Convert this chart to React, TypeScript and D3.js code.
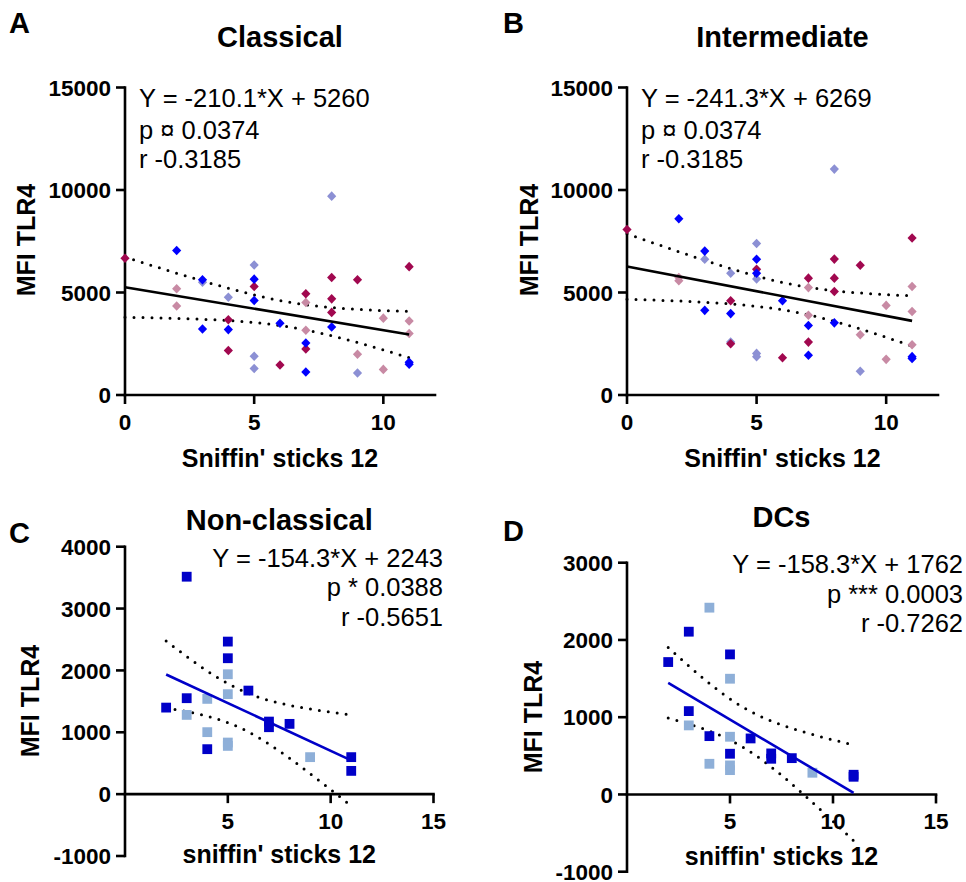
import React from 'react';
import * as d3 from 'd3';

// ---------- DATA ----------
// Panel A – Classical (groups: 0 blue, 1 lavender, 2 crimson, 3 rose)
const classicalX = [2, 3, 3, 4, 5, 5, 6, 7, 7, 8, 11, 11, 3, 4, 5, 5, 5, 8, 9, 0, 4, 4, 5, 6, 7, 7, 8, 8, 8, 9, 11, 2, 2, 7, 7, 9, 10, 10, 11, 11];
const classicalY = [7050, 5620, 3220, 3190, 5650, 4610, 3500, 2540, 1120, 3320, 1500, 1600, 5500, 4770, 6340, 1890, 1290, 9700, 1070, 6670, 3670, 2170, 5290, 1460, 4940, 2250, 5730, 4690, 4030, 5620, 6260, 5180, 4340, 4510, 3160, 1990, 3750, 1250, 3610, 3000];
const classicalGroup = [0, 0, 0, 0, 0, 0, 0, 0, 0, 0, 0, 0, 1, 1, 1, 1, 1, 1, 1, 2, 2, 2, 2, 2, 2, 2, 2, 2, 2, 2, 2, 3, 3, 3, 3, 3, 3, 3, 3, 3];

// Panel B – Intermediate
const intermediateX = [2, 3, 3, 4, 5, 5, 6, 7, 7, 8, 11, 11, 3, 4, 4, 5, 5, 5, 5, 8, 9, 0, 4, 4, 5, 6, 7, 7, 8, 8, 8, 9, 11, 2, 2, 7, 7, 9, 10, 10, 11, 11, 11];
const intermediateY = [8600, 7020, 4130, 3970, 6620, 5940, 4600, 3390, 1940, 3520, 1780, 1870, 6620, 5940, 2580, 7390, 5660, 2030, 1870, 11020, 1160, 8070, 4600, 2500, 6130, 1820, 5700, 2580, 6630, 5700, 5050, 6330, 7660, 5730, 5570, 5240, 3890, 2940, 4370, 1740, 5290, 4070, 2450];
const intermediateGroup = [0, 0, 0, 0, 0, 0, 0, 0, 0, 0, 0, 0, 1, 1, 1, 1, 1, 1, 1, 1, 1, 2, 2, 2, 2, 2, 2, 2, 2, 2, 2, 2, 2, 3, 3, 3, 3, 3, 3, 3, 3, 3, 3];

// Panel C – Non-classical (groups: 0 dark blue, 1 light blue)
const nonClassicalX = [3, 5, 5, 6, 3, 2, 4, 7, 7, 8, 11, 11, 5, 5, 4, 3, 4, 5, 5, 9];
const nonClassicalY = [3515, 2466, 2197, 1674, 1551, 1399, 727, 1173, 1082, 1136, 598, 376, 1938, 1616, 1540, 1281, 1002, 834, 780, 598];
const nonClassicalGroup = [0, 0, 0, 0, 0, 0, 0, 0, 0, 0, 0, 0, 1, 1, 1, 1, 1, 1, 1, 1];

// Panel D – DCs
const dcX = [3, 5, 2, 3, 4, 6, 5, 7, 7, 8, 11, 11, 4, 5, 3, 5, 4, 5, 5, 9];
const dcY = [2107, 1813, 1714, 1079, 755, 725, 527, 531, 462, 470, 255, 229, 2418, 1498, 894, 747, 397, 376, 315, 281];
const dcGroup = [0, 0, 0, 0, 0, 0, 0, 0, 0, 0, 0, 0, 1, 1, 1, 1, 1, 1, 1, 1];

// Regression fits (as printed on the figure)
const fitSlopes = [-210.1, -241.3, -154.3, -158.3];
const fitIntercepts = [5260, 6269, 2243, 1762];
const tCritical = [2.024, 2.021, 2.101, 2.101];

// Texts
const panelLetters = ['A', 'B', 'C', 'D'];
const panelTitles = ['Classical', 'Intermediate', 'Non-classical', 'DCs'];
const xAxisTitles = ["Sniffin' sticks 12", "Sniffin' sticks 12", "sniffin' sticks 12", "sniffin' sticks 12"];
const yAxisTitle = 'MFI TLR4';
const equationLines = [
  ['Y = -210.1*X + 5260', 'p \u00a4 0.0374', 'r -0.3185'],
  ['Y = -241.3*X + 6269', 'p \u00a4 0.0374', 'r -0.3185'],
  ['Y = -154.3*X + 2243', 'p * 0.0388', 'r -0.5651'],
  ['Y = -158.3*X + 1762', 'p *** 0.0003', 'r -0.7262'],
];

// Axis ticks
const topXTicks = [0, 5, 10];
const topYTicks = [0, 5000, 10000, 15000];
const cXTicks = [5, 10, 15];
const cYTicks = [-1000, 0, 1000, 2000, 3000, 4000];
const dXTicks = [5, 10, 15];
const dYTicks = [-1000, 0, 1000, 2000, 3000];

// ---------- STYLE / LAYOUT ----------
const FONT = "'Liberation Sans', Arial, Helvetica, sans-serif";
const diamondColors = ['#0000ff', '#8c90d4', '#a1084f', '#c88aa4'];
const squareColors = ['#0000c8', '#8eafd8'];

type Cfg = {
  idx: number;
  xs: number[]; ys: number[]; gs: number[];
  xDomain: [number, number]; yDomain: [number, number];
  xRange: [number, number]; yRange: [number, number];
  xTicks: number[]; yTicks: number[];
  marker: 'diamond' | 'square';
  colors: string[];
  drawOrder: number[];
  lineColor: string;
  letterPos: [number, number];
  titleY: number;
  xLabelY: number;
  yLabelPos: [number, number];
  eqX: number; eqAnchor: 'start' | 'end'; eqYs: number[];
};

const panels: Cfg[] = [
  {
    idx: 0, xs: classicalX, ys: classicalY, gs: classicalGroup,
    xDomain: [0, 12], yDomain: [0, 15000], xRange: [125, 435], yRange: [395, 87.5],
    xTicks: topXTicks, yTicks: topYTicks, marker: 'diamond', colors: diamondColors, drawOrder: [1, 3, 2, 0],
    lineColor: '#000', letterPos: [9, 33], titleY: 47, xLabelY: 467, yLabelPos: [35, 240],
    eqX: 139, eqAnchor: 'start', eqYs: [107, 139, 168],
  },
  {
    idx: 1, xs: intermediateX, ys: intermediateY, gs: intermediateGroup,
    xDomain: [0, 12], yDomain: [0, 15000], xRange: [627, 938], yRange: [395, 87.5],
    xTicks: topXTicks, yTicks: topYTicks, marker: 'diamond', colors: diamondColors, drawOrder: [1, 3, 2, 0],
    lineColor: '#000', letterPos: [503, 33], titleY: 47, xLabelY: 467, yLabelPos: [538, 240],
    eqX: 641, eqAnchor: 'start', eqYs: [107, 139, 168],
  },
  {
    idx: 2, xs: nonClassicalX, ys: nonClassicalY, gs: nonClassicalGroup,
    xDomain: [0, 15], yDomain: [-1000, 4000], xRange: [125, 433.5], yRange: [856, 546.7],
    xTicks: cXTicks, yTicks: cYTicks, marker: 'square', colors: squareColors, drawOrder: [1, 0],
    lineColor: '#0000c8', letterPos: [9, 543], titleY: 530, xLabelY: 863, yLabelPos: [39, 701],
    eqX: 443, eqAnchor: 'end', eqYs: [567, 596, 626],
  },
  {
    idx: 3, xs: dcX, ys: dcY, gs: dcGroup,
    xDomain: [0, 15], yDomain: [-1000, 3000], xRange: [627, 936], yRange: [871.7, 562.7],
    xTicks: dXTicks, yTicks: dYTicks, marker: 'square', colors: squareColors, drawOrder: [1, 0],
    lineColor: '#0000c8', letterPos: [503, 541], titleY: 527, xLabelY: 865, yLabelPos: [542, 717],
    eqX: 963, eqAnchor: 'end', eqYs: [573, 603, 632],
  },
];

function confidenceBand(xs: number[], ys: number[], slope: number, intercept: number, t: number) {
  const n = xs.length;
  const xbar = d3.mean(xs) as number;
  const sxx = d3.sum(xs, (x) => (x - xbar) ** 2);
  const sse = d3.sum(xs, (x, i) => (ys[i] - (intercept + slope * x)) ** 2);
  const s = Math.sqrt(sse / (n - 2));
  const [xmin, xmax] = d3.extent(xs) as [number, number];
  return d3.range(0, 61).map((i) => {
    const x = xmin + ((xmax - xmin) * i) / 60;
    const yh = intercept + slope * x;
    const se = s * Math.sqrt(1 / n + (x - xbar) ** 2 / sxx);
    return { x, lo: yh - t * se, hi: yh + t * se };
  });
}

function Panel({ cfg }: { cfg: Cfg }) {
  const x = d3.scaleLinear().domain(cfg.xDomain).range(cfg.xRange);
  const y = d3.scaleLinear().domain(cfg.yDomain).range(cfg.yRange);
  const slope = fitSlopes[cfg.idx];
  const intercept = fitIntercepts[cfg.idx];
  const [xmin, xmax] = d3.extent(cfg.xs) as [number, number];
  const band = confidenceBand(cfg.xs, cfg.ys, slope, intercept, tCritical[cfg.idx]);
  const hiLine = d3.line<{ x: number; hi: number; lo: number }>().x((d) => x(d.x)).y((d) => y(d.hi));
  const loLine = d3.line<{ x: number; hi: number; lo: number }>().x((d) => x(d.x)).y((d) => y(d.lo));
  const axisY = y(0);
  const axisX = x(0);
  const tickLen = 9;
  const titleX = (cfg.xRange[0] + cfg.xRange[1]) / 2;

  const order = d3.range(cfg.xs.length).sort(
    (a, b) => cfg.drawOrder.indexOf(cfg.gs[a]) - cfg.drawOrder.indexOf(cfg.gs[b]) || a - b
  );

  const diamond = 'M0,-4.8L4.6,0L0,4.8L-4.6,0Z';
  const sq = 9.8;

  return (
    <g>
      <text x={cfg.letterPos[0]} y={cfg.letterPos[1]} fontSize={29} fontWeight="bold">{panelLetters[cfg.idx]}</text>
      <text x={titleX} y={cfg.titleY} fontSize={29} fontWeight="bold" textAnchor="middle">{panelTitles[cfg.idx]}</text>

      {/* axes */}
      <line x1={axisX} x2={axisX} y1={cfg.yRange[0]} y2={cfg.yRange[1]} stroke="#000" strokeWidth={2.6} strokeLinecap="square" />
      <line x1={cfg.xRange[0]} x2={cfg.xRange[1]} y1={axisY} y2={axisY} stroke="#000" strokeWidth={2.6} strokeLinecap="square" />
      {cfg.yTicks.map((v) => (
        <g key={'yt' + v}>
          <line x1={axisX - tickLen} x2={axisX} y1={y(v)} y2={y(v)} stroke="#000" strokeWidth={2.6} />
          <text x={axisX - 14} y={y(v)} dy="0.36em" textAnchor="end" fontSize={22.5} fontWeight="bold">{String(v)}</text>
        </g>
      ))}
      {cfg.xTicks.map((v) => (
        <g key={'xt' + v}>
          <line x1={x(v)} x2={x(v)} y1={axisY} y2={axisY + tickLen} stroke="#000" strokeWidth={2.6} />
          <text x={x(v)} y={axisY + 35} textAnchor="middle" fontSize={22.5} fontWeight="bold">{String(v)}</text>
        </g>
      ))}
      <text x={titleX} y={cfg.xLabelY} textAnchor="middle" fontSize={25} fontWeight="bold">{xAxisTitles[cfg.idx]}</text>
      <text
        transform={`translate(${cfg.yLabelPos[0]},${cfg.yLabelPos[1]}) rotate(-90)`}
        textAnchor="middle" fontSize={25} fontWeight="bold"
      >{yAxisTitle}</text>

      {/* confidence bands */}
      <path d={hiLine(band) || ''} fill="none" stroke="#000" strokeWidth={3} strokeDasharray="0 9" strokeLinecap="round" />
      <path d={loLine(band) || ''} fill="none" stroke="#000" strokeWidth={3} strokeDasharray="0 9" strokeLinecap="round" />

      {/* points */}
      {order.map((i) => {
        const px = x(cfg.xs[i]);
        const py = y(cfg.ys[i]);
        const c = cfg.colors[cfg.gs[i]];
        return cfg.marker === 'diamond' ? (
          <path key={i} d={diamond} transform={`translate(${px},${py})`} fill={c} />
        ) : (
          <rect key={i} x={px - sq / 2} y={py - sq / 2} width={sq} height={sq} fill={c} />
        );
      })}

      {/* regression line */}
      <line
        x1={x(xmin)} x2={x(xmax)} y1={y(intercept + slope * xmin)} y2={y(intercept + slope * xmax)}
        stroke={cfg.lineColor} strokeWidth={2.6}
      />

      {/* equation */}
      {equationLines[cfg.idx].map((s, k) => (
        <text key={k} x={cfg.eqX} y={cfg.eqYs[k]} textAnchor={cfg.eqAnchor} fontSize={25.5}>{s}</text>
      ))}
    </g>
  );
}

export default function App() {
  return (
    <svg
      width={966}
      height={882}
      viewBox="0 0 966 882"
      style={{ position: 'absolute', left: 0, top: 0, background: '#fff' }}
      fontFamily={FONT}
    >
      <rect width={966} height={882} fill="#fff" />
      {panels.map((p) => (
        <Panel key={p.idx} cfg={p} />
      ))}
    </svg>
  );
}
